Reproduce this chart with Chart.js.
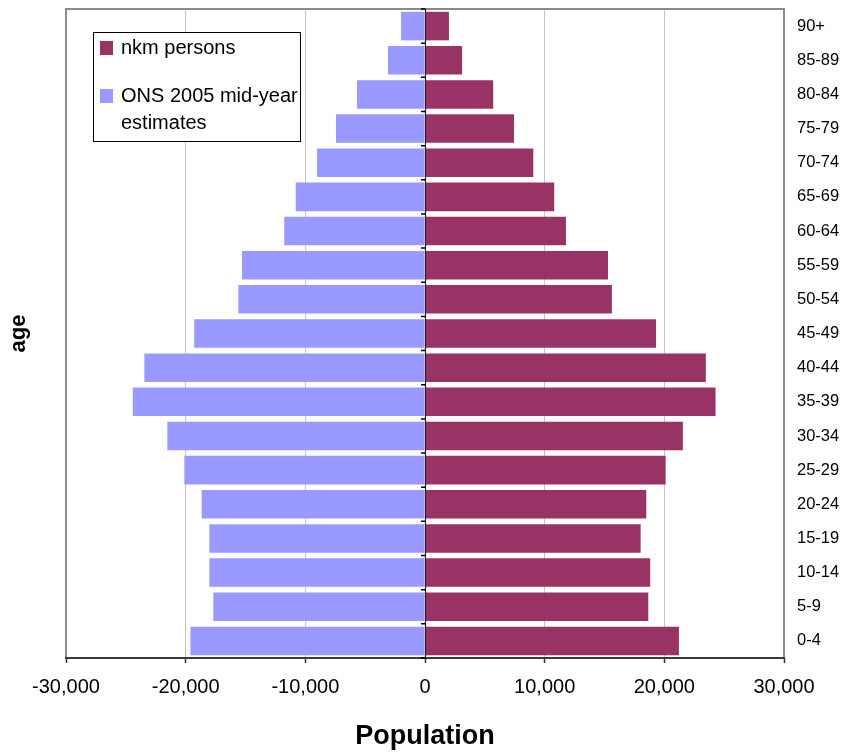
<!DOCTYPE html>
<html>
<head>
<meta charset="utf-8">
<title>Population pyramid</title>
<script src="https://cdn.jsdelivr.net/npm/chart.js@4/dist/chart.umd.min.js"></script>
<style>
  html, body { margin: 0; padding: 0; background: #fff; }
  #wrap { width: 843px; height: 753px; position: relative; }
</style>
</head>
<body>
<div id="wrap"><canvas id="pyramid"></canvas></div>
<script>
// Age bands, youngest first (drawn bottom to top)
const ageGroups = ['0-4', '5-9', '10-14', '15-19', '20-24', '25-29', '30-34', '35-39', '40-44',
  '45-49', '50-54', '55-59', '60-64', '65-69', '70-74', '75-79', '80-84', '85-89', '90+'];

// nkm persons, plotted to the right of zero
const nkmPersons = [21220, 18660, 18820, 18020, 18490, 20110, 21550, 24280, 23470,
  19310, 15620, 15290, 11780, 10800, 9050, 7440, 5700, 3100, 2000];

// ONS 2005 mid-year estimates, plotted to the left of zero
const onsEstimates = [-19600, -17690, -18020, -18020, -18660, -20110, -21530, -24420, -23450,
  -19290, -15600, -15290, -11760, -10800, -9020, -7440, -5680, -3090, -2000];

// Population axis ticks
const populationTicks = [-30000, -20000, -10000, 0, 10000, 20000, 30000];

const seriesNames = ['nkm persons', 'ONS 2005 mid-year estimates'];
const COLOR_NKM = '#993366';
const COLOR_ONS = '#9999FF';
const FONT = "'Liberation Sans', Arial, Helvetica, sans-serif";

Chart.defaults.font.family = FONT;
Chart.defaults.color = '#000';

// Frame, zero line with category ticks, and boxed legend
const pyramidDecor = {
  id: 'pyramidDecor',
  afterDatasetsDraw(chart) {
    const { ctx, chartArea: a, scales: { x, y } } = chart;
    ctx.save();
    // plot frame: grey top/left/right, dark bottom axis
    ctx.strokeStyle = '#8a8a8a';
    ctx.lineWidth = 2;
    ctx.beginPath();
    ctx.moveTo(a.left, a.bottom);
    ctx.lineTo(a.left, a.top);
    ctx.lineTo(a.right, a.top);
    ctx.lineTo(a.right, a.bottom);
    ctx.stroke();
    ctx.strokeStyle = '#3a3a3a';
    ctx.beginPath();
    ctx.moveTo(a.left - 1, a.bottom);
    ctx.lineTo(a.right + 1, a.bottom);
    ctx.stroke();

    // zero line
    const x0 = Math.round(x.getPixelForValue(0)) + 0.5;
    ctx.strokeStyle = '#202038';
    ctx.lineWidth = 1.2;
    ctx.beginPath();
    ctx.moveTo(x0, a.top);
    ctx.lineTo(x0, a.bottom);
    ctx.stroke();

    // tick marks at category boundaries along zero line
    const n = ageGroups.length;
    const bounds = [];
    for (let i = 0; i < n - 1; i++) {
      bounds.push((y.getPixelForValue(i) + y.getPixelForValue(i + 1)) / 2);
    }
    bounds.push(a.top, a.bottom);
    ctx.strokeStyle = '#000';
    ctx.lineWidth = 1.5;
    ctx.beginPath();
    bounds.forEach(py => {
      ctx.moveTo(x0 - 4.5, py);
      ctx.lineTo(x0, py);
    });
    ctx.stroke();
    ctx.restore();
  },
  afterDraw(chart) {
    const { ctx } = chart;
    const box = { x: 93, y: 32, w: 207, h: 109 };
    ctx.save();
    ctx.fillStyle = '#fff';
    ctx.fillRect(box.x, box.y, box.w, box.h);
    ctx.strokeStyle = '#000';
    ctx.lineWidth = 1;
    ctx.strokeRect(box.x + 0.5, box.y + 0.5, box.w, box.h);

    ctx.font = '20px ' + FONT;
    ctx.textBaseline = 'alphabetic';
    ctx.textAlign = 'left';
    const textX = 121;
    const maxW = box.x + box.w - textX - 1;
    const wrap = (text) => {
      const words = text.split(' ');
      const lines = [];
      let cur = '';
      words.forEach(w => {
        const t = cur ? cur + ' ' + w : w;
        if (ctx.measureText(t).width > maxW && cur) { lines.push(cur); cur = w; }
        else cur = t;
      });
      if (cur) lines.push(cur);
      return lines;
    };
    const items = chart.data.datasets.map(ds => ({ label: ds.label, color: ds.backgroundColor }));
    const baselines = [54, 102];
    items.forEach((it, i) => {
      ctx.fillStyle = it.color;
      ctx.fillRect(100, baselines[i] - 13, 13, 14);
      ctx.fillStyle = '#000';
      wrap(it.label).forEach((line, j) => {
        ctx.fillText(line, textX, baselines[i] + j * 26.5);
      });
    });
    ctx.restore();
  }
};

new Chart(document.getElementById('pyramid'), {
  type: 'bar',
  data: {
    labels: ageGroups,
    datasets: [
      { label: seriesNames[0], data: nkmPersons, backgroundColor: COLOR_NKM, borderWidth: 0 },
      { label: seriesNames[1], data: onsEstimates, backgroundColor: COLOR_ONS, borderWidth: 0 }
    ]
  },
  options: {
    indexAxis: 'y',
    responsive: true,
    maintainAspectRatio: false,
    animation: false,
    layout: { padding: { top: 9, right: 0, bottom: 0, left: 0 } },
    datasets: { bar: { categoryPercentage: 1, barPercentage: 0.835 } },
    plugins: { legend: { display: false }, tooltip: { enabled: false } },
    scales: {
      x: {
        type: 'linear',
        stacked: true,
        min: populationTicks[0],
        max: populationTicks[populationTicks.length - 1],
        afterBuildTicks: (s) => { s.ticks = populationTicks.map(v => ({ value: v })); },
        afterFit: (s) => { s.height = 95; s.paddingLeft = 0; s.paddingRight = 0; },
        border: { display: false },
        grid: {
          color: (c) => (c.tick && (c.tick.value === 0 || Math.abs(c.tick.value) === 30000)) ? 'rgba(0,0,0,0)' : '#c4c4c4',
          lineWidth: 1,
          drawTicks: true,
          tickLength: 5,
          tickColor: '#333',
          tickWidth: 1.5
        },
        ticks: {
          padding: 12,
          font: { size: 20 },
          color: '#000',
          callback: (v) => Number(v).toLocaleString('en-US')
        },
        title: {
          display: true,
          text: 'Population',
          font: { size: 27, weight: 'bold' },
          color: '#000',
          padding: { top: 0, bottom: 0 }
        }
      },
      y: {
        type: 'category',
        stacked: true,
        reverse: true,
        position: 'right',
        afterFit: (s) => { s.width = 59; s.paddingTop = 0; s.paddingBottom = 0; },
        border: { display: false },
        grid: { display: false, drawTicks: false },
        ticks: { padding: 13, font: { size: 16.5 }, color: '#000', autoSkip: false }
      },
      yTitle: {
        type: 'linear',
        position: 'left',
        min: 0,
        max: 1,
        afterFit: (s) => { s.width = 66; s.paddingTop = 0; s.paddingBottom = 0; },
        border: { display: false },
        grid: { display: false, drawTicks: false },
        ticks: { display: false },
        title: {
          display: true,
          text: 'age',
          font: { size: 22, weight: 'bold' },
          color: '#000',
          padding: { top: 6, bottom: 0 }
        }
      }
    }
  },
  plugins: [pyramidDecor]
});
</script>
</body>
</html>
